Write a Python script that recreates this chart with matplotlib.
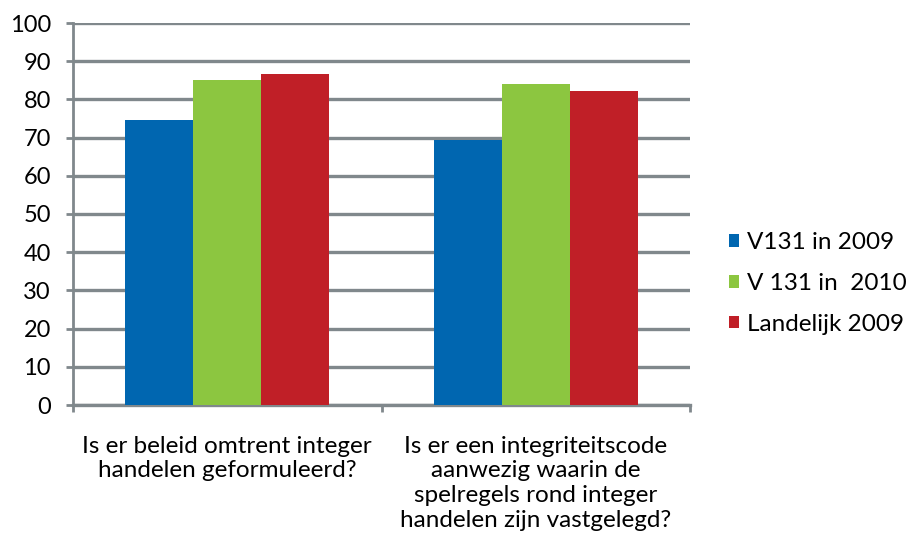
import matplotlib
matplotlib.use("Agg")
import matplotlib.pyplot as plt
import numpy as np

categories = ["Is er beleid omtrent integer\nhandelen geformuleerd?",
              "Is er een integriteitscode\naanwezig waarin de\nspelregels rond integer\nhandelen zijn vastgelegd?"]
series_names = ["V131 in 2009", "V 131 in  2010", "Landelijk 2009"]
v131_2009 = [74.5, 69.3]
v131_2010 = [85.0, 84.0]
landelijk_2009 = [86.6, 82.3]
colors = ["#0066B0", "#8CC640", "#C01F27"]
yticks = list(range(0, 101, 10))

plt.rcParams['font.family'] = ['Lato', 'DejaVu Sans']

fig = plt.figure(figsize=(9.06, 5.38), dpi=100)
ax = fig.add_axes([73/906, 1-405/538, (690-73)/906, (405-23)/538])

x = np.arange(len(categories))
w = 0.22
grid_c = "#80888C"
for i, (vals, name) in enumerate(zip([v131_2009, v131_2010, landelijk_2009], series_names)):
    ax.bar(x + (i-1)*w, vals, width=w, color=colors[i], label=name, zorder=3)

ax.set_xlim(-0.5, 1.5)
ax.set_ylim(0, 100)
ax.set_yticks(yticks)
ax.set_yticklabels([str(t) for t in yticks], fontsize=17)
ax.set_xticks([-0.5, 0.5, 1.5])
ax.set_xticklabels([])
ax.set_xticks(x, minor=True)
ax.set_xticklabels(categories, minor=True, fontsize=17.5, linespacing=1.22)
ax.tick_params(axis='x', which='minor', length=0, pad=22)
ax.tick_params(axis='x', which='major', length=5, width=2, color=grid_c, direction='out')
ax.tick_params(axis='y', length=5, width=2, color=grid_c, direction='out', pad=11)
ax.yaxis.grid(True, color=grid_c, linewidth=2.4, zorder=0)
ax.set_axisbelow(True)
for s in ['top', 'right']:
    ax.spines[s].set_visible(False)
ax.spines['left'].set_color(grid_c)
ax.spines['left'].set_linewidth(2)
ax.spines['bottom'].set_color(grid_c)
ax.spines['bottom'].set_linewidth(2.4)

fig.legend(loc='upper left', bbox_to_anchor=(729/906, 1-232/538), frameon=False,
           fontsize=17.5, handlelength=0.42, handleheight=0.42, handletextpad=0.33,
           labelspacing=0.82, borderpad=0, borderaxespad=0)

fig.savefig("out.png", dpi=100)
